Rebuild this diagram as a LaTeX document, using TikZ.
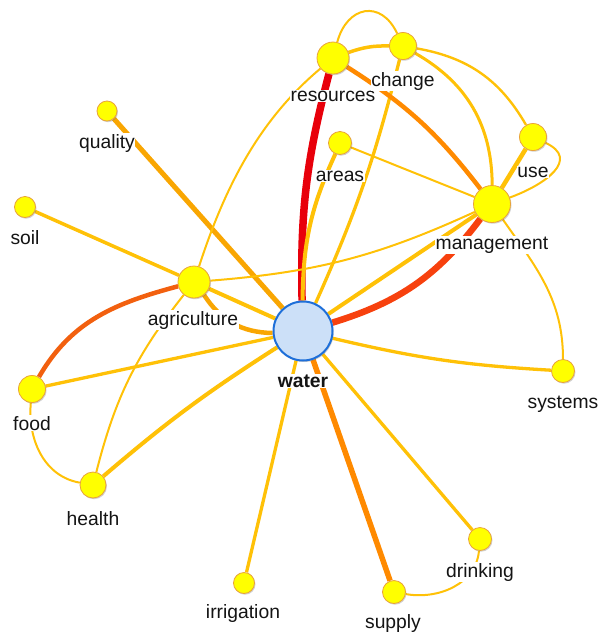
\documentclass[tikz,border=0pt]{standalone}
\usepackage{fontspec}
\newfontfamily\labfont{Liberation Sans}
\usetikzlibrary{backgrounds,shadows}
\definecolor{termfill}{HTML}{FFFF00}
\definecolor{termline}{HTML}{E9A23B}
\definecolor{hubfill}{HTML}{CCE0F8}
\definecolor{hubline}{HTML}{1E6FD9}
\definecolor{lnk}{HTML}{FFC107}
\definecolor{lnkamber}{HTML}{F9A602}
\definecolor{lnkorange}{HTML}{FF8A00}
\definecolor{lnkredorange}{HTML}{F7410E}
\definecolor{lnkfood}{HTML}{F2600F}
\definecolor{lnkred}{HTML}{E8000B}

\begin{document}
\begin{tikzpicture}[x=1pt, y=1pt,
  every node/.style={font=\labfont\fontsize{19.3}{21}\selectfont},
  term/.style={circle, draw=termline, line width=0.8pt, fill=termfill, inner sep=0pt,
    drop shadow={shadow xshift=1pt, shadow yshift=-1.2pt, fill=black!60, opacity=0.3}},
  hub/.style={circle, draw=hubline, line width=2pt, fill=hubfill, inner sep=0pt, minimum size=58pt,
    drop shadow={shadow xshift=1.2pt, shadow yshift=-1.5pt, fill=black!60, opacity=0.3}},
  lab/.style={fill=white, inner sep=0.6pt, anchor=base, text=black!92},
  weaklink/.style={draw=lnk, line width=2pt},
  link/.style={draw=lnk, line width=3.3pt},
  amberlink/.style={draw=lnkamber, line width=4.5pt},
  orangelink/.style={draw=lnkorange, line width=5.5pt},
  redlink/.style={draw=lnkred, line width=7.5pt},
  orangeredlink/.style={draw=lnkredorange, line width=6.5pt},
  foodlink/.style={draw=lnkfood, line width=4.5pt}]
	\useasboundingbox (0,0) rectangle (605,-633);
	% terms
	\node[hub, minimum size=59pt] (water) at (303,-331) {};
	\node[term, minimum size=32pt] (resources) at (333,-58) {};
	\node[term, minimum size=27pt] (change) at (403,-46) {};
	\node[term, minimum size=23pt] (areas) at (340,-143) {};
	\node[term, minimum size=27pt] (use) at (533,-137) {};
	\node[term, minimum size=37pt] (management) at (492,-204) {};
	\node[term, minimum size=20pt] (quality) at (107,-111) {};
	\node[term, minimum size=21pt] (soil) at (25,-207) {};
	\node[term, minimum size=32pt] (agriculture) at (194,-282) {};
	\node[term, minimum size=27pt] (food) at (32,-389) {};
	\node[term, minimum size=26pt] (health) at (93,-485) {};
	\node[term, minimum size=21pt] (irrigation) at (244,-583) {};
	\node[term, minimum size=23pt] (supply) at (394,-592) {};
	\node[term, minimum size=23pt] (drinking) at (480,-539) {};
	\node[term, minimum size=23pt] (systems) at (563,-371) {};
	% labels
	\node[lab, font=\labfont\fontsize{19.3}{21}\selectfont\bfseries] (water-lab) at (303,-387) {water};
	\node[lab] (resources-lab) at (333,-101) {resources};
	\node[lab] (change-lab) at (403,-86) {change};
	\node[lab] (areas-lab) at (340,-181) {areas};
	\node[lab] (use-lab) at (533,-177) {use};
	\node[lab] (management-lab) at (492,-249) {management};
	\node[lab] (quality-lab) at (107,-148) {quality};
	\node[lab] (soil-lab) at (25,-244) {soil};
	\node[lab] (agriculture-lab) at (193,-325) {agriculture};
	\node[lab] (food-lab) at (32,-430) {food};
	\node[lab] (health-lab) at (93,-525) {health};
	\node[lab] (irrigation-lab) at (243,-618) {irrigation};
	\node[lab] (supply-lab) at (393,-628) {supply};
	\node[lab] (drinking-lab) at (480,-577) {drinking};
	\node[lab] (systems-lab) at (563,-408) {systems};
	% co-occurrence links
	\begin{scope}[on background layer]
	\draw[redlink] (water) to[bend left=8] (resources);
	\draw[orangeredlink] (water) to[bend right=18] (management);
	\draw[link, line width=4pt] (water) -- (management);
	\draw[link, line width=4pt] (water) to[bend left=12] (areas);
	\draw[link] (water) to[bend right=5] (change);
	\draw[link] (water) to[bend right=5] (systems);
	\draw[link] (water) -- (drinking);
	\draw[orangelink] (water) -- (supply);
	\draw[link] (water) -- (irrigation);
	\draw[link, line width=4pt] (water) to[bend right=4] (health);
	\draw[link] (water) -- (food);
	\draw[link, line width=4pt] (water) -- (agriculture);
	\draw[amberlink] (water) to[bend left=28] (agriculture);
	\draw[amberlink, line width=5pt] (water) -- (quality);
	\draw[link, line width=3.5pt] (soil) -- (agriculture);
	\draw[weaklink] (agriculture) to[bend right=10] (management);
	\draw[weaklink] (areas) -- (management);
	\draw[orangelink, line width=4.5pt] (resources) to[bend left=10] (management);
	\draw[link, line width=3.5pt] (resources) to[bend left=10] (change);
	\draw[weaklink] (resources) to[out=75, in=115, looseness=1.6] (change);
	\draw[link, line width=3pt] (change) to[bend left=30] (management);
	\draw[weaklink, line width=2.4pt] (change) to[bend left=25] (use);
	\draw[link, line width=4.5pt] (use) -- (management);
	\draw[weaklink] (use) to[out=-25, in=20, looseness=1.5] (management);
	\draw[weaklink] (management) to[out=-55, in=90] (systems);
	\draw[weaklink] (resources) to[out=220, in=72, looseness=0.9] (agriculture);
	\draw[foodlink] (agriculture) to[out=195, in=60] (food);
	\draw[weaklink] (agriculture) to[bend right=12] (health);
	\draw[weaklink] (food) to[out=-95, in=170] (health);
	\draw[weaklink] (supply) to[out=-10, in=-95] (drinking);
	\end{scope}
\end{tikzpicture}
\end{document}
